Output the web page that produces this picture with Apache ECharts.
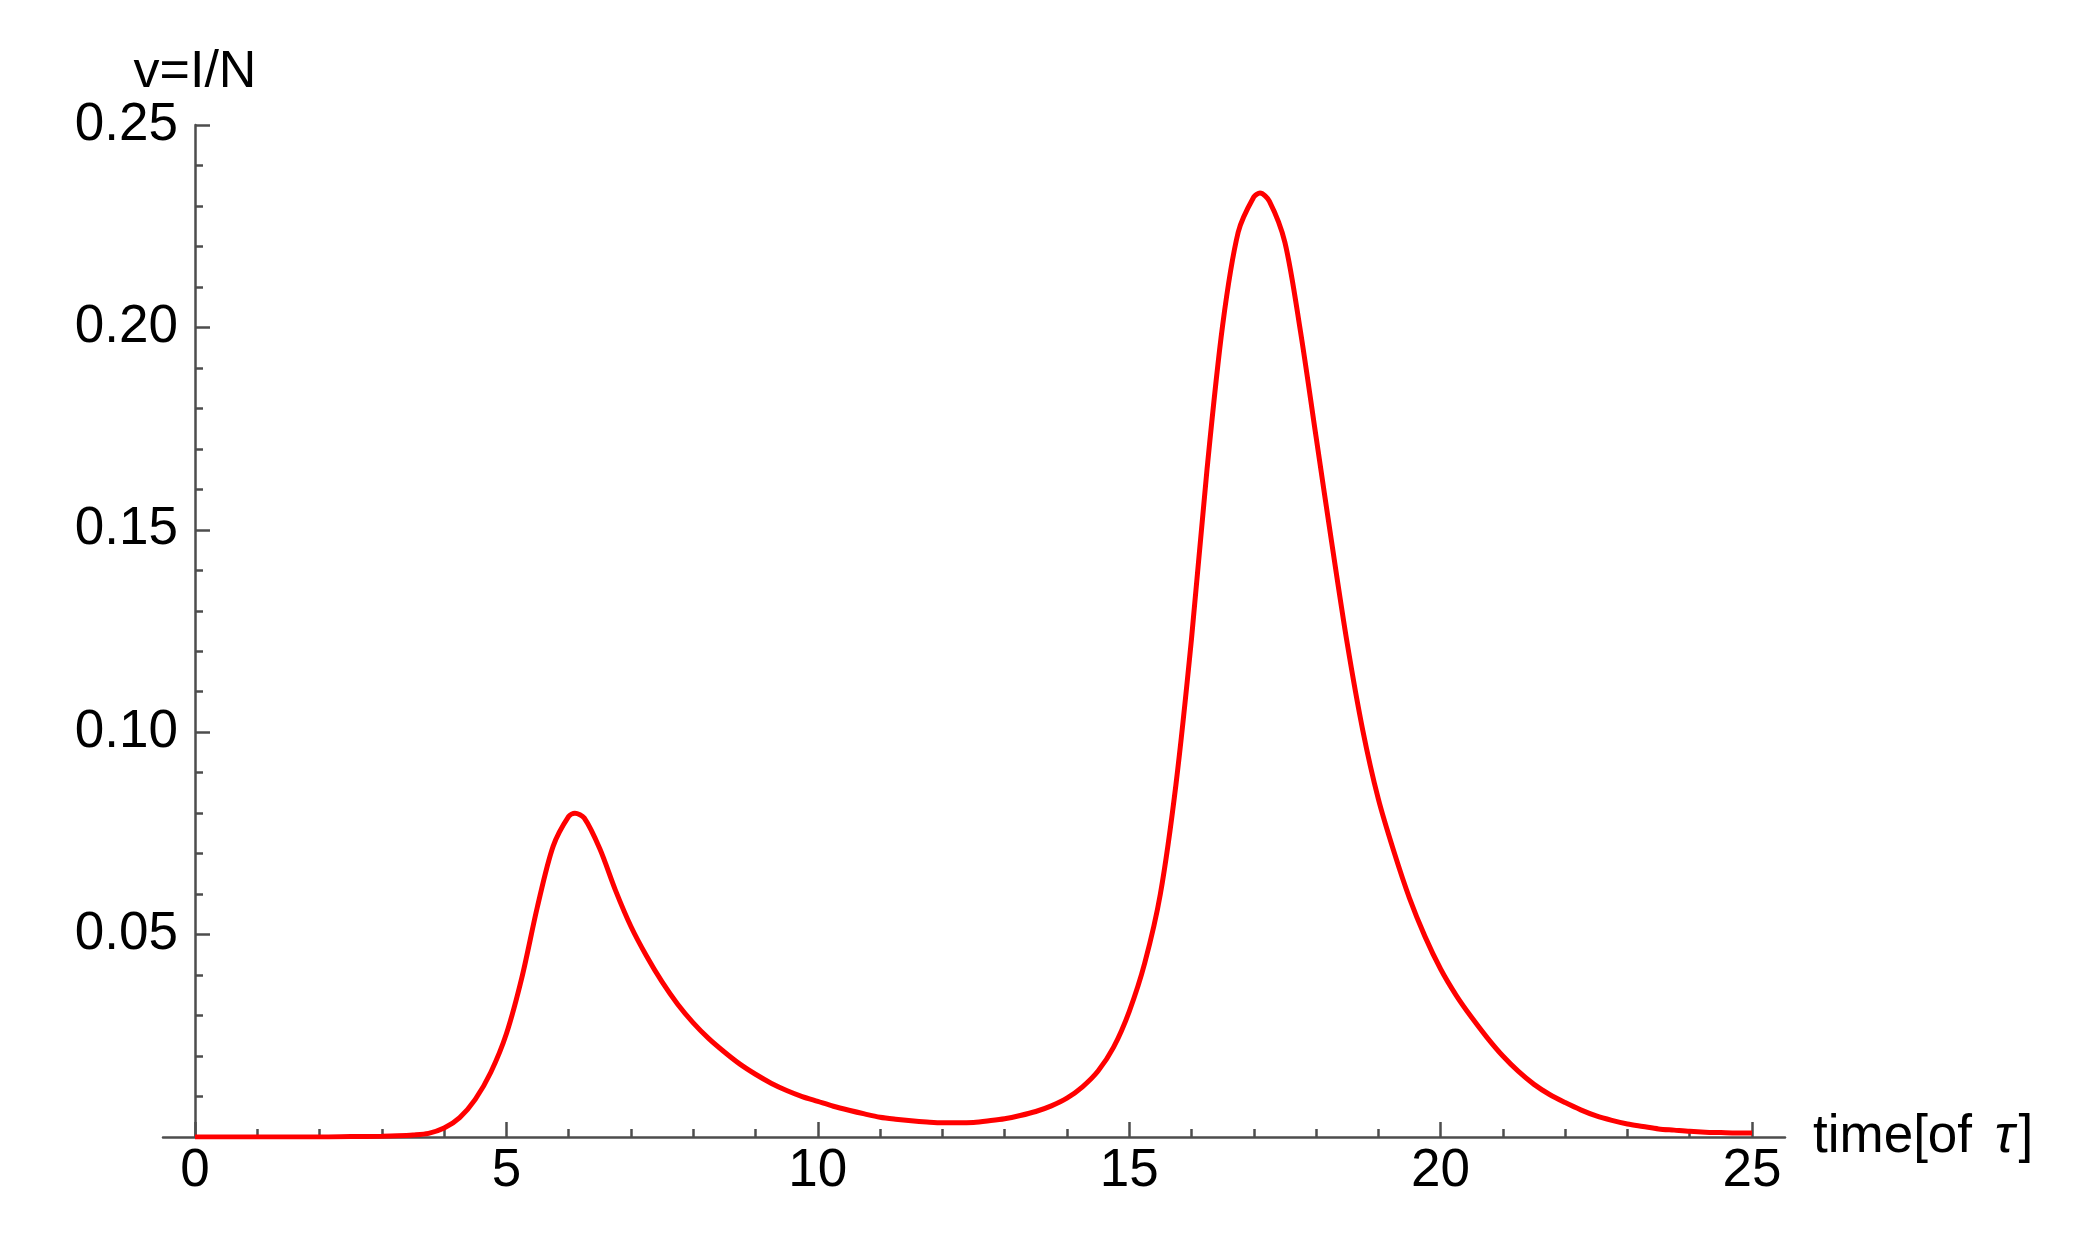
<!DOCTYPE html>
<html>
<head>
<meta charset="utf-8">
<title>v=I/N</title>
<script src="https://cdn.jsdelivr.net/npm/echarts@6/dist/echarts.min.js"></script>
<style>
  html, body { margin: 0; padding: 0; background: #fff; }
  #chart { width: 2079px; height: 1255px; }
</style>
</head>
<body>
<div id="chart"></div>
<script>
// time in units of tau
const times = [
  0, 0.5, 1, 1.5, 2, 2.5, 3, 3.25, 3.5, 3.75,
  4, 4.25, 4.5, 4.75, 5, 5.25, 5.5, 5.75, 6, 6.1, 6.25, 6.5, 6.75,
  7, 7.25, 7.5, 7.75, 8, 8.25, 8.5, 8.75, 9, 9.25, 9.5, 9.75,
  10, 10.25, 10.5, 10.75, 11, 11.25, 11.5, 11.75, 12, 12.25, 12.5, 12.75,
  13, 13.25, 13.5, 13.75, 14, 14.25, 14.5, 14.75, 15, 15.25, 15.5, 15.75,
  16, 16.25, 16.5, 16.75, 17, 17.1, 17.25, 17.5, 17.75, 18, 18.25, 18.5, 18.75,
  19, 19.25, 19.5, 19.75, 20, 20.25, 20.5, 20.75, 21, 21.25, 21.5, 21.75,
  22, 22.25, 22.5, 22.75, 23, 23.25, 23.5, 23.75, 24, 24.25, 24.5, 24.75, 25
]
// v = I/N
const values = [
  0, 0, 0, 0, 0, 0.0001, 0.0002, 0.0003, 0.0005, 0.0009,
  0.0022, 0.0048, 0.0093, 0.016, 0.0255, 0.0395, 0.057, 0.0718, 0.0792, 0.0800, 0.0788, 0.0712, 0.061,
  0.052, 0.0447, 0.0383, 0.0328, 0.0282, 0.0243, 0.021, 0.018, 0.0155, 0.0133, 0.0115, 0.01,
  0.0088, 0.0076, 0.0066, 0.0057, 0.0049, 0.0044, 0.004, 0.0037, 0.0035, 0.0035, 0.0036, 0.004,
  0.0045, 0.0053, 0.0063, 0.0077, 0.0096, 0.0124, 0.0163, 0.0222, 0.031, 0.043, 0.060, 0.087,
  0.123, 0.165, 0.2005, 0.2235, 0.2322, 0.2332, 0.2312, 0.221, 0.199, 0.173, 0.147, 0.122, 0.1005,
  0.0835, 0.0705, 0.059, 0.0495, 0.0415, 0.035, 0.0295, 0.0245, 0.02, 0.0162, 0.013, 0.0105,
  0.0085, 0.0067, 0.0052, 0.0041, 0.0032, 0.0026, 0.002, 0.0017, 0.0014, 0.0012, 0.0011, 0.001, 0.001
]

const xTicks = { min: 0, max: 25, interval: 5 }
const yTicks = { min: 0, max: 0.25, interval: 0.05 }

const axisColor = '#4d4d4d'
const font = 'Liberation Sans, Arial, sans-serif'

const chart = echarts.init(document.getElementById('chart'))

chart.setOption({
  backgroundColor: '#ffffff',
  animation: false,
  grid: [
    { left: 195, right: 327, top: 125, bottom: 118 },
    // wider grid, only carries the longer x axis line
    { left: 163, right: 294, top: 125, bottom: 118 }
  ],
  xAxis: [
    {
      type: 'value',
      gridIndex: 0,
      min: xTicks.min,
      max: xTicks.max,
      interval: xTicks.interval,
      splitLine: { show: false },
      axisLine: { show: false },
      axisTick: { inside: true, length: 15, lineStyle: { color: axisColor, width: 2.5 } },
      minorTick: { show: true, splitNumber: 5, length: 8, lineStyle: { color: axisColor, width: 2.5 } },
      axisLabel: { margin: 8, color: '#000', fontSize: 53, fontFamily: font }
    },
    {
      type: 'value',
      gridIndex: 1,
      min: -0.5,
      max: 25.5,
      splitLine: { show: false },
      axisTick: { show: false },
      axisLabel: { show: false },
      axisLine: { show: true, lineStyle: { color: axisColor, width: 2.5 } },
      name: 'time[of {t|τ}]',
      nameLocation: 'end',
      nameGap: 28,
      nameTextStyle: {
        color: '#000',
        fontSize: 53,
        fontFamily: font,
        verticalAlign: 'middle',
        rich: {
          t: { fontSize: 53, fontStyle: 'italic', fontFamily: font, color: '#000', padding: [0, 4, 0, 8] }
        }
      }
    }
  ],
  yAxis: [
    {
      type: 'value',
      gridIndex: 0,
      min: yTicks.min,
      max: yTicks.max,
      interval: yTicks.interval,
      splitLine: { show: false },
      axisLine: { show: true, onZero: false, lineStyle: { color: axisColor, width: 2.5 } },
      axisTick: { inside: true, length: 15, lineStyle: { color: axisColor, width: 2.5 } },
      minorTick: { show: true, splitNumber: 5, length: 8, lineStyle: { color: axisColor, width: 2.5 } },
      axisLabel: {
        margin: 17,
        color: '#000',
        fontSize: 53,
        fontFamily: font,
        formatter: (v) => (v === 0 ? '' : v.toFixed(2))
      },
      name: 'v=I/N',
      nameLocation: 'end',
      nameGap: 20,
      nameTextStyle: { color: '#000', fontSize: 52, fontFamily: font, verticalAlign: 'bottom' }
    },
    {
      type: 'value',
      gridIndex: 1,
      show: false
    }
  ],
  series: [
    {
      type: 'line',
      xAxisIndex: 0,
      yAxisIndex: 0,
      data: times.map((t, i) => [t, values[i]]),
      smooth: 0.3,
      showSymbol: false,
      lineStyle: { color: '#ff0000', width: 5 },
      z: 3
    }
  ]
})
</script>
</body>
</html>
